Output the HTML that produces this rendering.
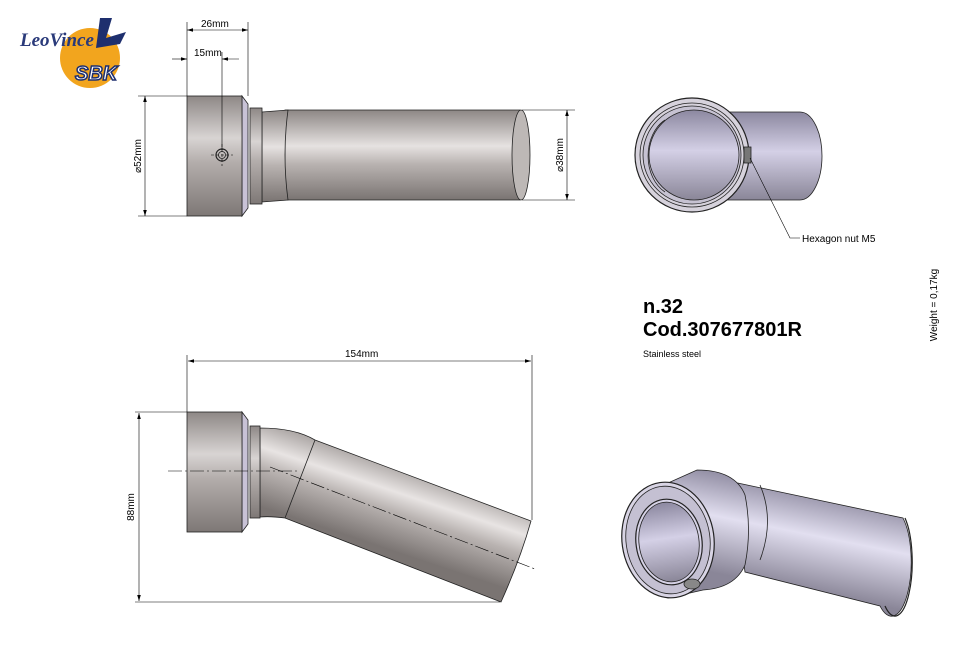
<!DOCTYPE html>
<html><head><meta charset="utf-8"><style>
html,body{margin:0;padding:0;background:#fff;}
svg{display:block;font-family:"Liberation Sans",sans-serif;}
</style></head><body>
<svg width="962" height="670" viewBox="0 0 962 670" xmlns="http://www.w3.org/2000/svg">
<defs>
<linearGradient id="mv" x1="0" y1="0" x2="0" y2="1">
<stop offset="0" stop-color="#8e8886"/><stop offset="0.35" stop-color="#d8d4d3"/><stop offset="0.55" stop-color="#b4aeac"/><stop offset="1" stop-color="#7e7876"/></linearGradient>
<linearGradient id="mt" x1="0" y1="0" x2="0" y2="1">
<stop offset="0" stop-color="#8d8785"/><stop offset="0.4" stop-color="#e6e2e1"/><stop offset="0.6" stop-color="#b9b3b1"/><stop offset="1" stop-color="#7a7472"/></linearGradient>
<linearGradient id="mb" gradientUnits="userSpaceOnUse" x1="330" y1="430" x2="300" y2="520">
<stop offset="0" stop-color="#8d8785"/><stop offset="0.4" stop-color="#e8e4e3"/><stop offset="0.6" stop-color="#b9b3b1"/><stop offset="1" stop-color="#7a7472"/></linearGradient>
<linearGradient id="lv" x1="0" y1="0" x2="0" y2="1">
<stop offset="0" stop-color="#8c88a0"/><stop offset="0.45" stop-color="#d4d0e6"/><stop offset="1" stop-color="#8a8698"/></linearGradient>
<linearGradient id="li" gradientUnits="userSpaceOnUse" x1="820" y1="490" x2="800" y2="590">
<stop offset="0" stop-color="#8e8aa0"/><stop offset="0.45" stop-color="#e2dff0"/><stop offset="1" stop-color="#8a8698"/></linearGradient>
<marker id="ar" viewBox="0 0 10 6" refX="10" refY="3" markerWidth="10" markerHeight="6" orient="auto-start-reverse"><path d="M0,0 L10,3 L0,6 z" fill="#000"/></marker>
</defs>

<!-- logo -->
<circle cx="90" cy="58" r="30" fill="#f2a51e"/>
<text x="20" y="46" font-size="19" font-style="italic" font-weight="bold" fill="#2a3a7a" font-family="Liberation Serif,serif">LeoVince</text>
<path d="M100,18 L112,18 L106,38 L126,32 L120,44 L96,48 z" fill="#1e2f6e"/>
<text x="75" y="80" font-size="20" font-style="italic" font-weight="bold" fill="#fff" stroke="#1e2f6e" stroke-width="1.5">SBK</text>

<!-- TOP LEFT VIEW -->
<g stroke="#222" stroke-width="0.8">
<path d="M285,110 L520,110 L520,200 L285,200 z" fill="url(#mt)"/>
<ellipse cx="521" cy="155" rx="9" ry="45" fill="#bdb8b6"/>
<path d="M262,112 L288,110 Q282,155 288,200 L262,202 z" fill="url(#mt)"/>
<rect x="250" y="108" width="12" height="96" fill="url(#mv)"/>
<path d="M242,96 L248,104 L248,208 L242,216 z" fill="#c8c2d6"/>
<rect x="187" y="96" width="55" height="120" fill="url(#mv)"/>
<circle cx="222" cy="155" r="6" fill="none" stroke-width="1.2"/><circle cx="222" cy="155" r="3.5" fill="none"/>
</g>
<g stroke="#000" stroke-width="0.6" fill="none">
<line x1="211" y1="155" x2="233" y2="155" stroke-dasharray="3,2"/><line x1="222" y1="144" x2="222" y2="166" stroke-dasharray="3,2"/>
<line x1="187" y1="22" x2="187" y2="96"/><line x1="248" y1="22" x2="248" y2="96"/><line x1="222" y1="52" x2="222" y2="150"/>
<line x1="187" y1="30" x2="248" y2="30" marker-start="url(#ar)" marker-end="url(#ar)"/>
<line x1="172" y1="59" x2="187" y2="59" marker-end="url(#ar)"/><line x1="222" y1="59" x2="239" y2="59" marker-start="url(#ar)"/>
<line x1="138" y1="96" x2="187" y2="96"/><line x1="138" y1="216" x2="187" y2="216"/>
<line x1="145" y1="96" x2="145" y2="216" marker-start="url(#ar)" marker-end="url(#ar)"/>
<line x1="522" y1="110" x2="575" y2="110"/><line x1="522" y1="200" x2="575" y2="200"/>
<line x1="567" y1="110" x2="567" y2="200" marker-start="url(#ar)" marker-end="url(#ar)"/>
</g>
<text x="201" y="27" font-size="10">26mm</text>
<text x="194" y="56" font-size="10">15mm</text>
<text transform="translate(141,156) rotate(-90)" font-size="10" text-anchor="middle">⌀52mm</text>
<text transform="translate(563,155) rotate(-90)" font-size="10" text-anchor="middle">⌀38mm</text>

<!-- TOP RIGHT END VIEW -->
<g stroke="#222" stroke-width="0.8">
<path d="M692,112 L800,112 A22,44 0 0 1 800,200 L692,200 z" fill="url(#lv)"/>
<circle cx="692" cy="155" r="57" fill="#d6d2dc" stroke-width="1.2"/>
<circle cx="692" cy="155" r="52" fill="none"/>
<circle cx="692" cy="155" r="49" fill="#c6c2d2"/>
<circle cx="694" cy="155" r="45" fill="url(#lv)"/>
<path d="M665,120 A30,40 0 0 0 665,192" fill="none"/>
<rect x="744" y="147" width="7" height="16" fill="#777"/>
</g>
<polyline points="750,158 790,238 800,238" fill="none" stroke="#000" stroke-width="0.6"/>
<text x="802" y="242" font-size="10">Hexagon nut M5</text>

<!-- TEXT -->
<text x="643" y="313" font-size="20" font-weight="bold">n.32</text>
<text x="643" y="336" font-size="20" font-weight="bold">Cod.307677801R</text>
<text x="643" y="357" font-size="9">Stainless steel</text>
<text transform="translate(937,305) rotate(-90)" font-size="10" text-anchor="middle">Weight = 0,17kg</text>

<!-- BOTTOM LEFT VIEW -->
<g stroke="#222" stroke-width="0.8">
<path d="M260,428 Q295,428 315,440 L531,521 Q520,560 501,602 L285,518 Q270,516 260,517 z" fill="url(#mb)"/>
<line x1="315" y1="440" x2="285" y2="518"/>
<rect x="250" y="426" width="10" height="92" fill="url(#mv)"/>
<path d="M242,412 L248,420 L248,524 L242,532 z" fill="#c8c2d6"/>
<rect x="187" y="412" width="55" height="120" fill="url(#mv)"/>
</g>
<g stroke="#000" stroke-width="0.6" fill="none">
<line x1="168" y1="471" x2="297" y2="471" stroke-dasharray="14,3,2,3"/>
<line x1="270" y1="467" x2="535" y2="569" stroke-dasharray="14,3,2,3"/>
<line x1="187" y1="355" x2="187" y2="412"/><line x1="532" y1="355" x2="532" y2="520"/>
<line x1="188" y1="361" x2="531" y2="361" marker-start="url(#ar)" marker-end="url(#ar)"/>
<line x1="135" y1="412" x2="187" y2="412"/><line x1="135" y1="602" x2="500" y2="602"/>
<line x1="139" y1="413" x2="139" y2="601" marker-start="url(#ar)" marker-end="url(#ar)"/>
</g>
<text x="345" y="357" font-size="10">154mm</text>
<text transform="translate(134,507) rotate(-90)" font-size="10" text-anchor="middle">88mm</text>

<!-- ISO VIEW -->
<g stroke="#222" stroke-width="0.8">
<path d="M733,482 L903,518 A16,44 0 0 1 880,606 L745,572 z" fill="url(#li)"/>
<path d="M905,518 A14,44 0 0 1 885,606" fill="none" stroke-width="1.2"/>
<path d="M697,470 Q735,470 745,495 Q752,530 745,565 Q735,588 703,590 L668,598 L668,483 z" fill="url(#li)"/>
<path d="M760,485 Q775,520 760,560" fill="none"/>
<ellipse cx="668" cy="540" rx="46" ry="58" transform="rotate(-8 668 540)" fill="#d8d4e4" stroke-width="1.2"/>
<ellipse cx="668" cy="540" rx="42" ry="54" transform="rotate(-8 668 540)" fill="#c4c0d2"/>
<ellipse cx="669" cy="542" rx="33" ry="43" transform="rotate(-8 669 542)" fill="#d6d2e6" stroke-width="1.2"/>
<ellipse cx="669" cy="542" rx="30" ry="40" transform="rotate(-8 669 542)" fill="url(#lv)"/>
<ellipse cx="692" cy="584" rx="8" ry="5" fill="#888"/>
</g>
</svg>
</body></html>
